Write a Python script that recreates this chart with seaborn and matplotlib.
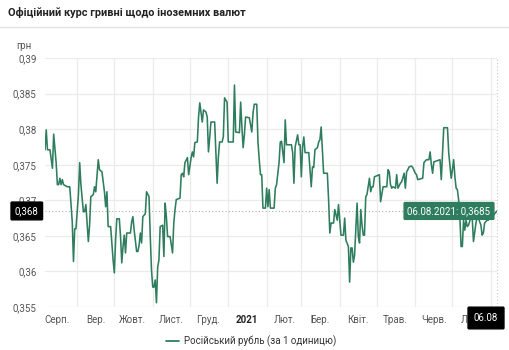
import numpy as np
import pandas as pd
import seaborn as sns
import matplotlib
matplotlib.use('Agg')
import matplotlib.pyplot as plt
import matplotlib.transforms as mtransforms
from matplotlib.lines import Line2D

# дні від 06.08.2020 та курс рубля (грн за 1 RUB)
days = [
    0, 1, 2, 4, 6, 7, 9, 10, 11, 12,
    13, 14, 15, 18, 20, 21, 22, 23, 24, 25,
    27, 28, 29, 31, 32, 33, 35, 36, 37, 39,
    40, 41, 43, 44, 46, 48, 49, 50, 51, 53,
    55, 56, 57, 58, 60, 61, 62, 63, 64, 65,
    66, 69, 70, 71, 72, 74, 75, 76, 77, 78,
    79, 81, 82, 84, 85, 86, 87, 88, 89, 90,
    91, 92, 93, 95, 96, 97, 98, 99, 101, 103,
    104, 105, 106, 109, 110, 111, 112, 113, 115, 116,
    118, 119, 120, 121, 123, 124, 125, 126, 127, 128,
    130, 131, 132, 133, 134, 137, 138, 139, 140, 141,
    143, 144, 145, 147, 148, 152, 153, 154, 157, 158,
    159, 160, 161, 162, 165, 166, 167, 168, 169, 171,
    172, 173, 174, 175, 176, 178, 179, 180, 181, 182,
    185, 186, 187, 189, 190, 191, 193, 194, 195, 199,
    200, 201, 202, 204, 205, 206, 207, 208, 209, 210,
    213, 215, 216, 217, 218, 220, 221, 222, 223, 224,
    225, 228, 229, 230, 231, 233, 234, 236, 237, 238,
    239, 241, 242, 243, 245, 246, 247, 248, 249, 250,
    252, 253, 254, 255, 256, 257, 258, 259, 260, 262,
    263, 264, 265, 266, 270, 271, 273, 276, 277, 278,
    279, 280, 281, 283, 284, 285, 287, 288, 290, 291,
    292, 293, 294, 296, 297, 299, 300, 301, 305, 306,
    308, 310, 311, 312, 313, 314, 319, 320, 321, 322,
    325, 326, 328, 329, 330, 331, 332, 333, 334, 335,
    336, 337, 338, 339, 340, 341, 342, 344, 345, 346,
    348, 349, 350, 352, 353, 354, 355, 357, 358, 359,
    361, 362, 365,
]
rate = [
    .3771, .3799, .3771, .3771, .3745, .3793, .3753, .3722, .3722, .3731,
    .3722, .3729, .3722, .3719, .3719, .3695, .3670, .3614, .3660, .3660,
    .3708, .3753, .3722, .3684, .3684, .3694, .3642, .3665, .3705, .3708,
    .3719, .3712, .3757, .3743, .3740, .3712, .3691, .3712, .3663, .3663,
    .3616, .3598, .3644, .3674, .3674, .3649, .3612, .3635, .3651, .3626,
    .3654, .3654, .3670, .3677, .3658, .3628, .3628, .3637, .3654, .3640,
    .3677, .3681, .3712, .3705, .3649, .3602, .3578, .3578, .3588, .3556,
    .3606, .3616, .3663, .3665, .3621, .3696, .3677, .3649, .3649, .3626,
    .3668, .3687, .3701, .3703, .3736, .3738, .3733, .3753, .3760, .3736,
    .3760, .3768, .3761, .3781, .3782, .3817, .3837, .3823, .3810, .3827,
    .3824, .3817, .3768, .3788, .3810, .3810, .3767, .3724, .3761, .3782,
    .3782, .3789, .3844, .3838, .3782, .3782, .3862, .3796, .3795, .3838,
    .3803, .3774, .3792, .3817, .3816, .3806, .3796, .3823, .3835, .3835,
    .3781, .3757, .3736, .3736, .3689, .3689, .3717, .3691, .3715, .3689,
    .3689, .3717, .3722, .3753, .3782, .3783, .3753, .3813, .3778, .3778,
    .3767, .3724, .3775, .3792, .3778, .3778, .3733, .3775, .3789, .3767,
    .3767, .3719, .3747, .3746, .3771, .3774, .3782, .3785, .3803, .3771,
    .3738, .3738, .3701, .3654, .3668, .3668, .3687, .3672, .3694, .3672,
    .3651, .3651, .3675, .3644, .3635, .3585, .3633, .3633, .3613, .3623,
    .3696, .3649, .3640, .3687, .3665, .3651, .3651, .3705, .3708, .3731,
    .3712, .3719, .3719, .3733, .3736, .3698, .3719, .3719, .3743, .3740,
    .3722, .3717, .3719, .3717, .3736, .3717, .3724, .3726, .3738, .3717,
    .3740, .3743, .3747, .3748, .3746, .3738, .3736, .3729, .3731, .3753,
    .3757, .3757, .3768, .3750, .3738, .3754, .3757, .3729, .3767, .3802,
    .3802, .3767, .3731, .3743, .3757, .3733, .3717, .3715, .3701, .3677,
    .3635, .3635, .3672, .3658, .3672, .3663, .3665, .3677, .3675, .3642,
    .3668, .3677, .3675, .3665, .3651, .3654, .3668, .3672, .3672, .3677,
    .3682, .3679, .3685,
]
assert len(days) == len(rate)

month_labels = ['Серп.', 'Вер.', 'Жовт.', 'Лист.', 'Груд.', '2021',
                'Лют.', 'Бер.', 'Квіт.', 'Трав.', 'Черв.', 'Лип.']
y_ticks = [0.355, 0.36, 0.365, 0.37, 0.375, 0.38, 0.385, 0.39]

start = pd.Timestamp('2020-08-06')
df = pd.DataFrame({'date': start + pd.to_timedelta(days, unit='D'), 'rate': rate})
last_date = df['date'].iloc[-1]
last_rate = df['rate'].iloc[-1]

sns.set_style('white')
plt.rcParams['font.family'] = ['Roboto', 'DejaVu Sans']

green = '#2f7d5f'
grid_c = '#ebebeb'
text_c = '#555555'

fig = plt.figure(figsize=(5.1, 3.5), dpi=100)
ax = fig.add_axes([45 / 510, 1 - 307 / 350, 452 / 510, 249 / 350])

sns.lineplot(data=df, x='date', y='rate', color=green, linewidth=1.15,
             label='Російський рубль (за 1 одиницю)', ax=ax, legend=False)

ax.set_xlim(start, last_date)
ax.set_ylim(0.355, 0.39)

# сітка: місяці - межі, підписи - середина місяця
month_starts = pd.date_range('2020-09-01', '2021-08-01', freq='MS')
for m in month_starts:
    ax.axvline(m, color=grid_c, lw=0.9, zorder=0)
for v in y_ticks:
    ax.axhline(v, color=grid_c, lw=0.9, zorder=0)

tick_pos = pd.date_range('2020-08-01', '2021-07-01', freq='MS') + pd.Timedelta(days=15)
ax.set_xticks(tick_pos, labels=month_labels)
ax.set_yticks(y_ticks, labels=[f'{v:.3f}'.rstrip('0').replace('.', ',') for v in y_ticks])
ax.tick_params(length=0, labelsize=7, labelcolor=text_c)
ax.tick_params(axis='y', pad=6)
ax.tick_params(axis='x', pad=6)
for lab in ax.get_xticklabels():
    if lab.get_text() == '2021':
        lab.set_fontweight('bold')
        lab.set_color('#222222')
for s in ax.spines.values():
    s.set_visible(False)
ax.set_xlabel('')
ax.set_ylabel('')

# перехрестя
ax.axhline(last_rate, color='#b0b0b0', lw=0.8, ls=(0, (1, 2)), zorder=1)
ax.axvline(last_date, color='#c8c8c8', lw=0.8, ls=(0, (1, 2)), zorder=1, clip_on=False)

trans = mtransforms.blended_transform_factory(ax.transAxes, ax.transData)
ax.text(-0.014, last_rate, '0,368', transform=trans, ha='right', va='center',
        fontsize=7, color='white', zorder=5,
        bbox=dict(boxstyle='round,pad=0.4,rounding_size=0.1', fc='black', ec='black'))
ax.annotate('06.08', xy=(last_date, 0.355), xytext=(-11, -11), textcoords='offset pixels',
            ha='center', va='center', fontsize=7, color='white', annotation_clip=False, zorder=6,
            bbox=dict(boxstyle='round,pad=0.6,rounding_size=0.1', fc='black', ec='black'))
ax.annotate('06.08.2021: 0,3685', xy=(last_date, last_rate), xytext=(-48, 0),
            textcoords='offset pixels', ha='center', va='center', fontsize=7, color='white',
            zorder=6, bbox=dict(boxstyle='round,pad=0.35,rounding_size=0.1', fc=green, ec=green))

fig.text(8 / 510, 1 - 12 / 350, 'Офіційний курс гривні щодо іноземних валют',
         fontsize=7.8, fontweight='bold', color='#222222', va='center')
fig.add_artist(Line2D([0, 1], [1 - 27 / 350] * 2, color='#e2e2e2', lw=1))
fig.text(16 / 510, 1 - 46 / 350, 'грн', fontsize=7, color=text_c, va='center')

handle = Line2D([], [], color=green, lw=1.3)
fig.legend([handle], ['Російський рубль (за 1 одиницю)'], loc='center',
           bbox_to_anchor=(251 / 510, 1 - 341 / 350), frameon=False,
           fontsize=7, handlelength=1.3, handletextpad=0.5, labelcolor='#333333')

fig.savefig('out.png', dpi=100, facecolor='white')
